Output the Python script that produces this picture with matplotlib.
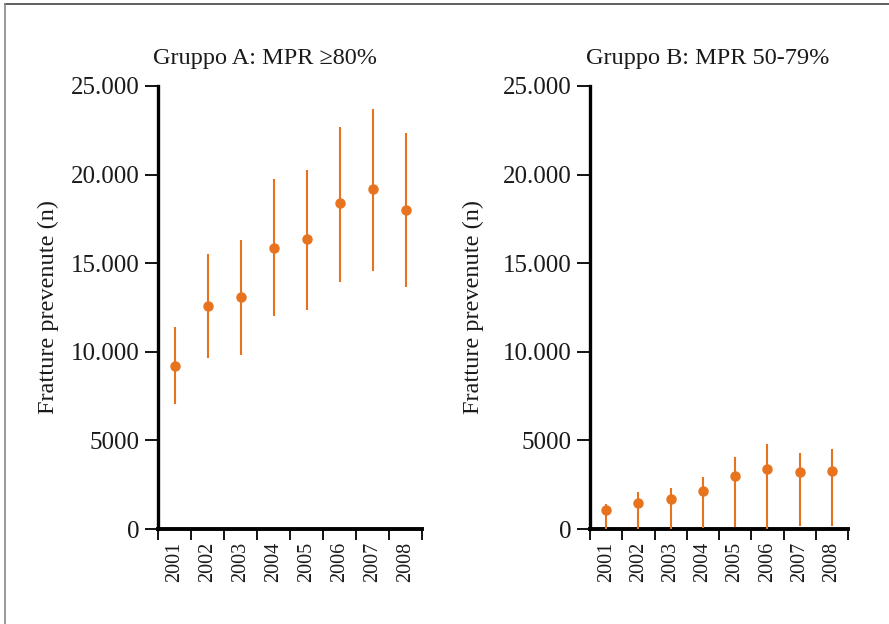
import matplotlib
matplotlib.use("Agg")
import matplotlib.pyplot as plt
from matplotlib.lines import Line2D
import numpy as np

plt.rcParams["font.family"] = ["Liberation Serif", "DejaVu Serif"]

anni = ["2001", "2002", "2003", "2004", "2005", "2006", "2007", "2008"]

# Gruppo A: MPR >=80%
a_val = [9220, 12590, 13090, 15880, 16370, 18380, 19190, 18000]
a_low = [7050, 9670, 9840, 12020, 12360, 13920, 14560, 13670]
a_high = [11380, 15520, 16330, 19750, 20260, 22700, 23700, 22360]

# Gruppo B: MPR 50-79%
b_val = [1070, 1480, 1680, 2160, 2970, 3400, 3200, 3290]
b_low = [0, 0, 0, 70, 130, 0, 170, 170]
b_high = [1410, 2100, 2310, 2930, 4060, 4810, 4310, 4530]

titoli = ["Gruppo A: MPR \u226580%", "Gruppo B: MPR 50-79%"]
yticks = [0, 5000, 10000, 15000, 20000, 25000]
ytick_labels = ["0", "5000", "10.000", "15.000", "20.000", "25.000"]

ARANCIO = "#E8731F"
TESTO = "#1a1a1a"

fig = plt.figure(figsize=(8.89, 6.24), dpi=100)
ax_a = fig.add_axes([158 / 889, 95 / 624, 264 / 889, 443 / 624])
ax_b = fig.add_axes([590 / 889, 95 / 624, 258 / 889, 443 / 624])

# (asse, valori, min, max, posizione etichetta y, centro titolo)
serie = [(ax_a, a_val, a_low, a_high, -0.375, 0.405),
         (ax_b, b_val, b_low, b_high, -0.41, 0.457)]
for i, (ax, val, low, high, lx, tx) in enumerate(serie):
    x = np.arange(len(anni))
    val = np.array(val)
    yerr = [val - np.array(low), np.array(high) - val]
    ax.errorbar(x, val, yerr=yerr, fmt="o", color=ARANCIO, ecolor=ARANCIO,
                elinewidth=1.5, markersize=6.5, capsize=0, zorder=3)
    ax.set_xlim(-0.5, len(anni) - 0.5)
    ax.set_ylim(0, 25000)
    ax.set_yticks(yticks)
    ax.set_yticklabels(ytick_labels, fontsize=18, color=TESTO)
    ax.set_xticks(np.arange(len(anni) + 1) - 0.5)
    ax.set_xticklabels([])
    ax.set_xticks(x, minor=True)
    ax.set_xticklabels(anni, minor=True, rotation=90, fontsize=14.5, color=TESTO)
    ax.tick_params(axis="x", which="major", length=8, width=1.3, direction="out")
    ax.tick_params(axis="x", which="minor", length=0, pad=9)
    ax.tick_params(axis="y", length=9.5, width=1.3, pad=4)
    for s in ["top", "right"]:
        ax.spines[s].set_visible(False)
    ax.spines["left"].set_linewidth(2.4)
    ax.spines["bottom"].set_linewidth(2.8)
    ax.set_title(titoli[i], fontsize=17.5, pad=15.5, color=TESTO, x=tx)
    ax.set_ylabel("Fratture prevenute (n)", fontsize=17.5, color=TESTO)
    ax.yaxis.set_label_coords(lx, 0.5)

# cornice
fig.add_artist(Line2D([5 / 889, 1], [1 - 4 / 624, 1 - 4 / 624], color="#444444", lw=1.2))
fig.add_artist(Line2D([5 / 889, 5 / 889], [0, 1 - 4 / 624], color="#888888", lw=1.2))

fig.savefig("out.png", dpi=100)
